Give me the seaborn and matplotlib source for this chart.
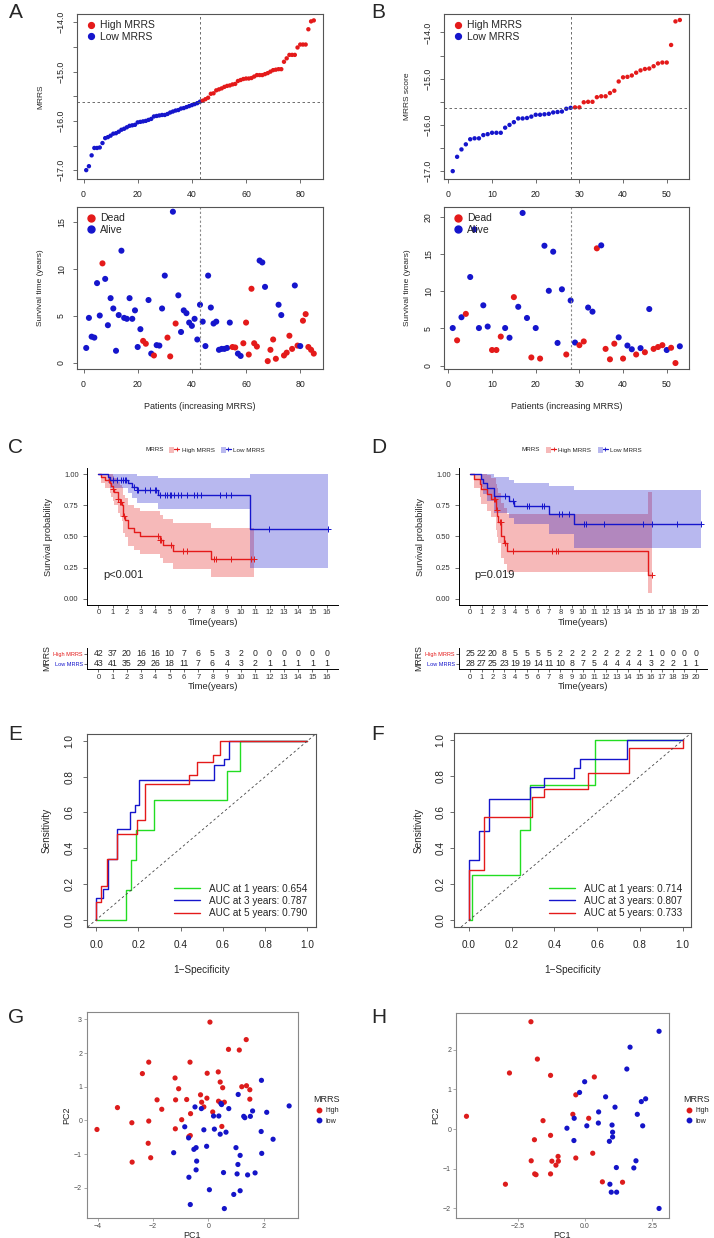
import numpy as np
import pandas as pd
import seaborn as sns
import matplotlib.pyplot as plt
from matplotlib.lines import Line2D
from matplotlib.patches import Patch
from matplotlib.legend_handler import HandlerTuple

sns.set_style("ticks")
plt.rcParams['font.family'] = ['Liberation Sans', 'DejaVu Sans']

RED = '#E41A1A'
BLUE = '#1515CC'
GREEN = '#22DD22'
GRAY = '#555555'

# ---------------- data: panel A (training cohort, sorted by risk score) ----------------
A_score = [-17.0, -16.92, -16.70, -16.55, -16.55, -16.54, -16.45, -16.35, -16.33, -16.30,
           -16.26, -16.25, -16.22, -16.18, -16.16, -16.13, -16.10, -16.09, -16.08, -16.03,
           -16.02, -16.01, -16.0, -15.98, -15.96, -15.91, -15.90, -15.89, -15.88, -15.88,
           -15.86, -15.83, -15.81, -15.79, -15.78, -15.75, -15.74, -15.72, -15.70, -15.68,
           -15.66, -15.64, -15.61,
           -15.59, -15.56, -15.53, -15.45, -15.44, -15.38, -15.36, -15.34, -15.31, -15.29,
           -15.28, -15.26, -15.25, -15.19, -15.17, -15.15, -15.14, -15.14, -15.13, -15.10,
           -15.07, -15.07, -15.07, -15.05, -15.03, -15.0, -14.97, -14.96, -14.95, -14.95,
           -14.80, -14.73, -14.66, -14.66, -14.66, -14.51, -14.45, -14.45, -14.45, -14.14,
           -13.98, -13.96]
A_time = [1.6, 4.8, 2.8, 2.7, 8.5, 5.05, 10.6, 8.95, 4.02, 6.9,
          5.8, 1.3, 5.1, 11.95, 4.8, 4.7, 6.9, 4.7, 5.6, 1.7,
          3.6, 2.35, 2.05, 6.7, 1.0, 0.8, 1.9, 1.85, 5.8, 9.3,
          2.7, 0.7, 16.1, 4.2, 7.2, 3.3, 5.6, 5.3, 4.3, 3.95,
          4.7, 2.5, 6.2, 4.4, 1.8, 9.3, 5.9, 4.2, 4.4, 1.4,
          1.5, 1.5, 1.6, 4.3, 1.7, 1.65, 1.0, 0.75, 2.1, 4.3,
          0.9, 7.9, 2.1, 1.75, 10.9, 10.7, 8.1, 0.2, 1.4, 2.5,
          0.45, 6.2, 5.1, 0.8, 1.1, 2.9, 1.5, 8.25, 1.85, 1.8,
          4.5, 5.2, 1.7, 1.4, 1.0]
A_status = [0, 0, 0, 0, 0, 0, 1, 0, 0, 0,
            0, 0, 0, 0, 0, 0, 0, 0, 0, 0,
            0, 1, 1, 0, 0, 1, 0, 0, 0, 0,
            1, 1, 0, 1, 0, 0, 0, 0, 0, 0,
            0, 0, 0, 0, 0, 0, 0, 0, 0, 0,
            0, 0, 0, 0, 1, 1, 0, 0, 1, 1,
            1, 1, 1, 1, 0, 0, 0, 1, 1, 1,
            1, 0, 0, 1, 1, 1, 1, 0, 1, 0,
            1, 1, 1, 1, 1]
A_cutoff = -15.61

# ---------------- data: panel B (validation cohort) ----------------
B_score = [-17.0, -16.69, -16.53, -16.42, -16.31, -16.29, -16.29, -16.22, -16.2, -16.17,
           -16.17, -16.17, -16.06, -16.0, -15.94, -15.86, -15.86, -15.85, -15.82, -15.78,
           -15.78, -15.77, -15.76, -15.73, -15.72, -15.71, -15.65, -15.63,
           -15.62, -15.62, -15.51, -15.50, -15.50, -15.40, -15.38, -15.38, -15.31, -15.26,
           -15.06, -14.97, -14.96, -14.93, -14.87, -14.82, -14.79, -14.78, -14.73, -14.67,
           -14.65, -14.65, -14.27, -13.76, -13.73]
B_time = [5.05, 3.4, 6.5, 6.95, 11.9, 18.3, 5.05, 8.1, 5.25, 2.1,
          2.1, 3.9, 5.05, 3.75, 9.2, 7.9, 20.5, 6.4, 1.1, 5.05,
          0.95, 16.1, 10.05, 15.3, 3.05, 10.25, 1.5, 8.75, 3.1, 2.75,
          3.25, 7.8, 7.25, 15.75, 16.15, 2.25, 0.85, 2.95, 3.8, 0.95,
          2.7, 2.2, 1.5, 2.35, 1.8, 7.6, 2.25, 2.5, 2.75, 2.1,
          2.4, 0.35, 2.6]
B_status = [0, 1, 0, 1, 0, 0, 0, 0, 0, 1,
            1, 1, 0, 0, 1, 0, 0, 0, 1, 0,
            1, 0, 0, 0, 0, 0, 1, 0, 0, 1,
            1, 0, 0, 1, 0, 1, 1, 1, 0, 1,
            0, 0, 1, 0, 1, 0, 1, 1, 1, 0,
            1, 1, 0]
B_cutoff = -15.63

# ---------------- data: ROC curves (E, F) ----------------
roc_years = [1, 3, 5]
E_auc = [0.654, 0.787, 0.790]
E_fpr = [[0, 0.142, 0.163, 0.19, 0.272, 0.62, 0.68, 1.0],
         [0, 0, 0.03, 0.055, 0.098, 0.161, 0.182, 0.203, 0.558, 0.604, 0.627, 1.0],
         [0, 0, 0.02, 0.05, 0.1, 0.195, 0.23, 0.44, 0.475, 0.555, 0.585, 1.0]]
E_tpr = [[0, 0.167, 0.333, 0.5, 0.667, 0.833, 1.0, 1.0],
         [0, 0.12, 0.17, 0.34, 0.51, 0.6, 0.64, 0.78, 0.865, 0.9, 1.0, 1.0],
         [0, 0.1, 0.19, 0.34, 0.48, 0.56, 0.76, 0.81, 0.885, 0.92, 1.0, 1.0]]
F_auc = [0.714, 0.807, 0.733]
F_fpr = [[0, 0.016, 0.241, 0.285, 0.591, 1.0],
         [0, 0, 0.048, 0.093, 0.285, 0.353, 0.49, 0.521, 0.739, 1.0],
         [0, 0, 0.07, 0.295, 0.353, 0.555, 0.751, 1.0]]
F_tpr = [[0, 0.25, 0.5, 0.75, 1.0, 1.0],
         [0, 0.337, 0.494, 0.676, 0.739, 0.79, 0.846, 0.896, 1.0, 1.0],
         [0, 0.281, 0.574, 0.685, 0.73, 0.818, 0.954, 1.0]]

# ---------------- data: PCA (G, H) ----------------
G_high_pc1 = [-4.02, -3.28, -2.76, -2.75, -2.38, -2.15, -2.15, -2.17, -2.08, -1.85,
              -1.68, -1.2, -1.18, -1.19, -1.07, -0.96, -0.78, -0.66, -0.64, -0.65,
              -0.70, -0.28, -0.24, -0.16, -0.04, -0.05, 0.06, 0.16, 0.36, 0.37,
              0.43, 0.52, 0.49, 0.58, 0.73, 1.12, 1.21, 1.37, 1.38, 1.5, 1.5, 0.45]
G_high_pc2 = [-0.27, 0.38, -0.07, -1.24, 1.39, 1.73, -0.02, -0.68, -1.11, 0.61,
              0.33, 1.26, 0.61, -0.25, 0.94, 0.02, 0.62, 1.73, 0.2, -0.45,
              -0.48, 0.76, 0.54, 0.40, 1.40, 0.66, 2.92, 0.25, 1.44, 0.57,
              1.14, 0.97, -0.18, 0.54, 2.11, 2.09, 1.0, 2.40, 1.03, 0.91, 0.63, 0.52]
G_low_pc1 = [-1.25, -0.85, -0.71, -0.70, -0.65, -0.52, -0.44, -0.48, -0.42, -0.44,
             -0.25, -0.16, -0.06, 0.04, 0.19, 0.22, 0.38, 0.43, 0.46, 0.64,
             0.55, 0.58, 0.74, 0.92, 1.0, 1.04, 1.07, 1.08, 1.15, 1.15,
             1.28, 1.32, 1.42, 1.52, 1.60, 1.69, 1.92, 1.91, 1.93, 2.11,
             2.34, 2.92, 0.48]
G_low_pc2 = [-0.96, -0.19, -0.52, -1.69, -2.5, -0.86, -0.81, 0.40, -1.21, -1.47,
             0.35, -0.28, -0.77, -2.06, 0.13, -0.26, 0.13, -0.41, 0.50, -0.35,
             -1.55, -2.62, 0.35, -2.2, -0.81, -1.59, -1.31, 0.77, -1.04, -2.09,
             0.12, 0.08, -1.62, 0.12, 0.28, -1.56, 1.19, -0.33, -0.98, 0.24,
             -0.56, 0.43, 0.47]
H_high_pc1 = [-4.41, -2.96, -2.81, -2.01, -2.0, -1.88, -1.87, -1.82, -1.77, -1.56,
              -1.28, -1.28, -1.28, -1.23, -1.08, -1.0, -0.99, -0.45, -0.34, -0.34,
              0.14, 0.29, 0.35, 0.65, 1.40]
H_high_pc2 = [0.32, -1.39, 1.41, 2.70, -0.80, -0.27, -1.13, -1.15, 1.76, 0.21,
              1.35, -0.16, -1.13, -0.81, -0.91, -0.69, -0.81, 0.37, 0.86, -0.73,
              0.27, -0.61, 1.31, -1.33, -1.34]
H_low_pc1 = [-0.67, -0.40, -0.41, -0.20, -0.01, 0.07, 0.51, 0.50, 0.77, 0.93,
             0.98, 1.01, 1.03, 1.03, 0.91, 1.12, 1.17, 1.18, 1.56, 1.68,
             1.82, 1.90, 1.95, 2.10, 2.15, 2.26, 2.76, 2.76]
H_low_pc2 = [0.02, 0.27, -0.29, 0.92, 1.19, 0.08, 0.43, 0.15, 0.81, -1.39,
             -1.59, 0.10, -0.08, -0.20, -0.31, 0.55, -0.97, -1.59, 1.51, 2.06,
             -0.98, -0.80, 0.37, 0.69, 0.08, 0.76, 2.46, -2.0]

# ---------------- figure helpers ----------------
W, H = 714, 1238
fig = plt.figure(figsize=(W / 100, H / 100), dpi=100)


def add_ax(l, t, r, b):
    return fig.add_axes([l / W, 1 - b / H, (r - l) / W, (b - t) / H])


def fx(px):
    return px / W


def fy(py):
    return 1 - py / H


def mtxt(v, fmt):
    return (fmt % v).replace('-', '\u2212')


def base_style(ax, size=6.3, xpad=5, ypad=5):
    for s in ax.spines.values():
        s.set_color(GRAY)
        s.set_linewidth(0.8)
    ax.tick_params(direction='out', length=3, width=0.6, color=GRAY,
                   labelsize=size, labelcolor='#222222')
    ax.tick_params(axis='x', pad=xpad)
    ax.tick_params(axis='y', pad=ypad, labelrotation=90)
    for lab in ax.get_yticklabels():
        lab.set_va('center')


def km(times, events):
    t = np.asarray(times, float)
    e = np.asarray(events)
    xs, ss, lo, hi = [0.0], [1.0], [1.0], [1.0]
    s, v = 1.0, 0.0
    cens = []
    for u in np.unique(t):
        n = np.sum(t >= u)
        d = np.sum((t == u) & (e == 1))
        c = np.sum((t == u) & (e == 0))
        if d > 0:
            s *= (n - d) / n
            if n > d:
                v += d / (n * (n - d))
            se = np.sqrt(v)
            xs.append(u)
            ss.append(s)
            lo.append(s * np.exp(-1.96 * se))
            hi.append(min(1.0, s * np.exp(1.96 * se)))
        if c > 0:
            cens.append((u, s))
    xs.append(t.max())
    ss.append(ss[-1])
    lo.append(lo[-1])
    hi.append(hi[-1])
    return np.array(xs), np.array(ss), np.array(lo), np.array(hi), cens


# ---------------- A / B: risk score + survival status ----------------
def risk_panels(ax1, ax2, score, time, status, cutoff, xlim, ylim1, ylim2,
                xticks, yticks2, ylab1):
    score = np.asarray(score)
    n = len(score)
    n_low = int(np.sum(score <= cutoff))
    df = pd.DataFrame({'idx': np.arange(1, n + 1), 'score': score,
                       'grp': np.where(score > cutoff, 'High MRRS', 'Low MRRS'),
                       'time': time,
                       'status': np.where(np.asarray(status) == 1, 'Dead', 'Alive')})
    sns.scatterplot(data=df, x='idx', y='score', hue='grp',
                    palette={'High MRRS': RED, 'Low MRRS': BLUE},
                    s=10, linewidth=0, ax=ax1, legend=False)
    ax1.axvline(n_low, color=GRAY, ls=(0, (3, 3)), lw=0.6)
    ax1.axhline(cutoff, color=GRAY, ls=(0, (3, 3)), lw=0.6)
    ax1.set_xlim(*xlim)
    ax1.set_ylim(*ylim1)
    ax1.set_xticks(xticks)
    yt = np.arange(-17.0, -13.9, 0.5)
    ax1.set_yticks(yt)
    ax1.set_yticklabels([mtxt(v, '%.1f') if v == int(v) else '' for v in yt])
    ax1.set_xlabel('')
    ax1.set_ylabel(ylab1, fontsize=6, labelpad=9)
    base_style(ax1)
    h = [Line2D([], [], ls='', marker='o', ms=4.2, color=c) for c in (RED, BLUE)]
    ax1.legend(h, ['High MRRS', 'Low MRRS'], loc='upper left', frameon=False,
               fontsize=7.5, handletextpad=0.1, labelspacing=0.15,
               borderaxespad=0.2, handlelength=1.5)

    sns.scatterplot(data=df, x='idx', y='time', hue='status',
                    palette={'Dead': RED, 'Alive': BLUE},
                    s=19, linewidth=0, ax=ax2, legend=False)
    ax2.axvline(n_low, color='#888888', ls=(0, (2, 2)), lw=0.8)
    ax2.set_xlim(*xlim)
    ax2.set_ylim(*ylim2)
    ax2.set_xticks(xticks)
    ax2.set_yticks(yticks2)
    ax2.set_xlabel('Patients (increasing MRRS)', fontsize=6.5, labelpad=9)
    ax2.set_ylabel('Survival time (years)', fontsize=6, labelpad=9)
    base_style(ax2)
    h = [Line2D([], [], ls='', marker='o', ms=5, color=c) for c in (RED, BLUE)]
    ax2.legend(h, ['Dead', 'Alive'], loc='upper left', frameon=False,
               fontsize=7.5, handletextpad=0.1, labelspacing=0.15,
               borderaxespad=0.2, handlelength=1.5)


axA1 = add_ax(77, 14, 323, 179)
axA2 = add_ax(77, 207, 323, 369)
risk_panels(axA1, axA2, A_score, A_time, A_status, A_cutoff, (-2.4, 88.4),
            (-17.18, -13.83), (-0.64, 16.6), [0, 20, 40, 60, 80], [0, 5, 10, 15],
            'MRRS')
axB1 = add_ax(444, 14, 689, 179)
axB2 = add_ax(444, 207, 689, 369)
risk_panels(axB1, axB2, B_score, B_time, B_status, B_cutoff, (-1.0, 55.1),
            (-17.17, -13.6), (-0.45, 21.3), [0, 10, 20, 30, 40, 50], [0, 5, 10, 15, 20],
            'MRRS score')


# ---------------- C / D: Kaplan-Meier + risk table ----------------
def km_panel(ax, axt, score, time, status, cutoff, xmax, pval, leg_x0, leg_key_x0):
    score = np.asarray(score)
    time = np.asarray(time)
    status = np.asarray(status)
    hi_mask = score > cutoff
    groups = [('High MRRS', hi_mask, RED), ('Low MRRS', ~hi_mask, BLUE)]
    for name, m, col in groups:
        xs, ss, lo, hi, cens = km(time[m], status[m])
        ax.fill_between(xs, lo, hi, step='post', color=col, alpha=0.3, lw=0)
        ax.step(xs, ss, where='post', color=col, lw=1.0)
        if cens:
            cx, cy = zip(*cens)
            ax.plot(cx, cy, ls='', marker='+', ms=4.5, mew=0.7, color=col)
    ax.set_xlim(-0.05 * xmax, 1.05 * xmax)
    ax.set_ylim(-0.05, 1.05)
    ax.set_xticks(range(0, xmax + 1))
    ax.set_yticks([0, 0.25, 0.5, 0.75, 1.0])
    ax.set_yticklabels(['0.00', '0.25', '0.50', '0.75', '1.00'])
    sns.despine(ax=ax)
    for s in ('left', 'bottom'):
        ax.spines[s].set_color('black')
        ax.spines[s].set_linewidth(0.7)
    ax.tick_params(length=2, width=0.5, labelsize=5.5, pad=1, colors='#333333')
    ax.tick_params(axis='y', length=3, pad=3)
    ax.set_xlabel('Time(years)', fontsize=6.8, labelpad=1)
    ax.set_ylabel('Survival probability', fontsize=6.7, labelpad=8)
    ax.text(0.35, 0.19, pval, fontsize=8, ha='left', va='center')

    hnd = [(Patch(facecolor=c, alpha=0.3, edgecolor='none'),
            Line2D([], [], color=c, lw=0.9, marker='+', ms=3.5, mew=0.6))
           for _, _, c in groups]
    fig.text(fx(leg_x0), fy(450), 'MRRS', fontsize=4.5, ha='left', va='center')
    fig.legend(hnd, [g[0] for g in groups], ncol=2, loc='center left',
               bbox_to_anchor=(fx(leg_key_x0), fy(450)), frameon=False,
               fontsize=4.5, handlelength=1.6, handleheight=1.3,
               handletextpad=0.4, columnspacing=1.0, borderpad=0, borderaxespad=0,
               handler_map={tuple: HandlerTuple(ndivide=None)})

    # number at risk
    ticks = list(range(0, xmax + 1))
    for row, (name, m, col) in zip([1, 0], groups):
        tm = time[m]
        for t in ticks:
            axt.text(t, row, str(int(np.sum(tm >= t))), ha='center', va='center',
                     fontsize=6.3)
    axt.set_xlim(-0.05 * xmax, 1.05 * xmax)
    axt.set_ylim(-0.5, 1.6)
    axt.set_xticks(ticks)
    axt.set_yticks([1, 0])
    axt.set_yticklabels([g[0] for g in groups])
    sns.despine(ax=axt)
    for s in ('left', 'bottom'):
        axt.spines[s].set_color('black')
        axt.spines[s].set_linewidth(0.7)
    axt.tick_params(length=2, width=0.5, labelsize=5.5, pad=1.5, colors='#333333')
    axt.tick_params(axis='y', labelsize=4, pad=1)
    for lab, (_, _, c) in zip(axt.get_yticklabels(), groups):
        lab.set_color(c)
    axt.set_xlabel('Time(years)', fontsize=6.8, labelpad=0.5)
    axt.set_ylabel('MRRS', fontsize=6.3, labelpad=1.5)


axC = add_ax(87, 468, 338, 605)
axCt = add_ax(87, 648, 338, 669)
km_panel(axC, axCt, A_score, A_time, A_status, A_cutoff, 16, 'p<0.001', 145, 169)
axD = add_ax(459, 468, 707, 605)
axDt = add_ax(459, 648, 707, 669)
km_panel(axD, axDt, B_score, B_time, B_status, B_cutoff, 20, 'p=0.019', 522, 546)


# ---------------- E / F: time-dependent ROC ----------------
def roc_panel(ax, fprs, tprs, aucs, xlim, ylim, ypad):
    for fpr, tpr, auc, yr, col in zip(fprs, tprs, aucs, roc_years, [GREEN, BLUE, RED]):
        ax.step(fpr, tpr, where='post', color=col, lw=1.0,
                label='AUC at %d years: %.3f' % (yr, auc))
    ax.axline((0, 0), (1, 1), color='#444444', ls=(0, (3, 3)), lw=0.6)
    ax.set_xlim(*xlim)
    ax.set_ylim(*ylim)
    tk = np.arange(0, 1.01, 0.2)
    ax.set_xticks(tk)
    ax.set_yticks(tk)
    ax.set_xticklabels(['%.1f' % v for v in tk])
    ax.set_yticklabels(['%.1f' % v for v in tk])
    ax.set_xlabel('1\u2212Specificity', fontsize=7.2, labelpad=11)
    ax.set_ylabel('Sensitivity', fontsize=7.2, labelpad=9)
    base_style(ax, size=7.2, xpad=6, ypad=ypad)
    ax.legend(loc='lower right', frameon=False, fontsize=7.2, handlelength=2.6,
              handletextpad=0.9, labelspacing=0.22, borderaxespad=0.5)


axE = add_ax(87, 734, 316, 927)
roc_panel(axE, E_fpr, E_tpr, E_auc, (-0.044, 1.041), (-0.041, 1.039), 6)
axF = add_ax(454, 733, 691, 927)
roc_panel(axF, F_fpr, F_tpr, F_auc, (-0.07, 1.039), (-0.037, 1.04), 3)


# ---------------- G / H: PCA ----------------
def pca_panel(ax, hx, hy, lx, ly, xlim, ylim, xticks, xtl, yticks, leg_x):
    df = pd.DataFrame({'PC1': list(hx) + list(lx), 'PC2': list(hy) + list(ly),
                       'MRRS': ['high'] * len(hx) + ['low'] * len(lx)})
    sns.scatterplot(data=df, x='PC1', y='PC2', hue='MRRS',
                    palette={'high': '#DD1C1C', 'low': '#1414C8'},
                    s=14, linewidth=0, ax=ax, legend=False)
    ax.set_xlim(*xlim)
    ax.set_ylim(*ylim)
    ax.set_xticks(xticks)
    ax.set_xticklabels(xtl)
    ax.set_yticks(yticks)
    ax.set_yticklabels([mtxt(v, '%d') for v in yticks])
    for s in ax.spines.values():
        s.set_color('#888888')
        s.set_linewidth(0.8)
    ax.tick_params(length=2, width=0.5, color='#888888', labelsize=5,
                   labelcolor='#4D4D4D', pad=1.5)
    ax.set_xlabel('PC1', fontsize=6.5, labelpad=1)
    ax.set_ylabel('PC2', fontsize=6.5, labelpad=2)
    hnd = [Line2D([], [], ls='', marker='o', ms=3.2, color=c) for c in ('#DD1C1C', '#1414C8')]
    ax.legend(hnd, ['high', 'low'], title='MRRS', loc='upper left',
              bbox_to_anchor=(fx(leg_x), fy(1091)), bbox_transform=fig.transFigure,
              frameon=False, fontsize=5.2, title_fontsize=6.5, alignment='left',
              borderpad=0, handletextpad=0.3, labelspacing=0.5, handlelength=1.4)


axG = add_ax(87, 1012, 298, 1218)
pca_panel(axG, G_high_pc1, G_high_pc2, G_low_pc1, G_low_pc2, (-4.38, 3.24), (-2.90, 3.22),
          [-4, -2, 0, 2], ['\u22124', '\u22122', '0', '2'], [-2, -1, 0, 1, 2, 3], 310)
axH = add_ax(456, 1013, 669, 1218)
pca_panel(axH, H_high_pc1, H_high_pc2, H_low_pc1, H_low_pc2, (-4.8, 3.13), (-2.24, 2.92),
          [-2.5, 0, 2.5], ['\u22122.5', '0.0', '2.5'], [-2, -1, 0, 1, 2], 680)

# ---------------- panel letters ----------------
for letter, x, y in [('A', 9, 3), ('B', 371, 3), ('C', 8, 438), ('D', 371, 438),
                     ('E', 8, 725), ('F', 371, 725), ('G', 8, 1008), ('H', 371, 1008)]:
    fig.text(fx(x), fy(y), letter, fontsize=15, ha='left', va='top')

fig.savefig('out.png', dpi=100)
